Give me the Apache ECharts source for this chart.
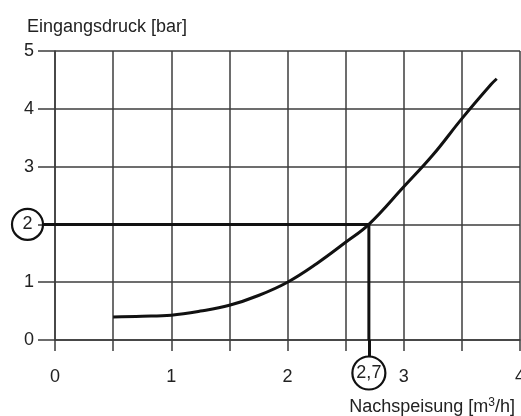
<!DOCTYPE html>
<html>
<head>
<meta charset="utf-8">
<script src="https://cdn.jsdelivr.net/npm/echarts@6/dist/echarts.min.js"></script>
<style>
html,body{margin:0;padding:0;background:#fff;}
#c{width:521px;height:416px;}
</style>
</head>
<body>
<div id="c"></div>
<script>
// Data
const flowX = [0.5, 0.75, 1.0, 1.25, 1.5, 1.75, 2.0, 2.25, 2.5, 2.7, 3.0, 3.25, 3.5, 3.75, 3.8];
const pressureY = [0.40, 0.41, 0.43, 0.50, 0.60, 0.77, 1.0, 1.32, 1.69, 2.0, 2.65, 3.2, 3.83, 4.42, 4.52];
const xTicks = [0, 1, 2, 3, 4];
const yTicks = [0, 1, 2, 3, 4, 5];
const markFlow = 2.7;
const markFlowLabel = '2,7';
const markPressure = 2;
const yAxisName = 'Eingangsdruck [bar]';
const xAxisNameMain = 'Nachspeisung [m';
const xAxisNameSup = '3';
const xAxisNameEnd = '/h]';

const FONT = '"Liberation Sans", Arial, sans-serif';
const GRID = '#3c3c3c';
const INK = '#111';
const TXT = '#222';

const chart = echarts.init(document.getElementById('c'), null, {renderer: 'canvas'});
const curve = flowX.map((x, i) => [x, pressureY[i]]);

chart.setOption({
  animation: false,
  backgroundColor: '#fff',
  textStyle: {fontFamily: FONT},
  title: [
    {text: yAxisName, left: 22, top: 13,
     textStyle: {fontFamily: FONT, fontSize: 18, fontWeight: 'normal', color: TXT}},
    {text: '{a|' + xAxisNameMain + '}{s|' + xAxisNameSup + '}{a|' + xAxisNameEnd + '}',
     right: 1, top: 392,
     textStyle: {fontFamily: FONT, fontSize: 18, fontWeight: 'normal', color: TXT,
       rich: {
         a: {fontFamily: FONT, fontSize: 18, color: TXT, lineHeight: 20},
         s: {fontFamily: FONT, fontSize: 12, color: TXT, lineHeight: 12, verticalAlign: 'top'}
       }}}
  ],
  grid: {left: 55, right: 1, top: 51, bottom: 76, containLabel: false, outerBoundsMode: 'none'},
  xAxis: [
    {type: 'value', min: 0, max: 4, interval: 0.5,
     axisLine: {show: true, lineStyle: {color: GRID, width: 1.5}},
     axisTick: {show: true, length: 11, lineStyle: {color: GRID, width: 1.5}},
     splitLine: {show: true, lineStyle: {color: GRID, width: 1.5}},
     axisLabel: {margin: 28, fontFamily: FONT, fontSize: 18, color: TXT, hideOverlap: false,
       formatter: v => xTicks.indexOf(v) >= 0 ? String(v) : ''}},
    {type: 'value', min: 0, max: 4, position: 'bottom',
     axisLine: {show: false},
     splitLine: {show: false},
     axisTick: {show: true, customValues: [markFlow], length: 16.5, lineStyle: {color: INK, width: 3}},
     axisLabel: {show: true, customValues: [markFlow], margin: 16.5, fontFamily: FONT, fontSize: 18, color: TXT,
       formatter: () => '{c|' + markFlowLabel + '}',
       rich: {c: {fontFamily: FONT, fontSize: 18, color: TXT, width: 33, height: 33, lineHeight: 33,
         align: 'center', borderColor: INK, borderWidth: 2.2, borderRadius: 18}}}}
  ],
  yAxis: [
    {type: 'value', min: 0, max: 5, interval: 1,
     axisLine: {show: true, lineStyle: {color: GRID, width: 1.5}},
     axisTick: {show: true, length: 17, lineStyle: {color: GRID, width: 1.5}},
     splitLine: {show: true, lineStyle: {color: GRID, width: 1.5}},
     axisLabel: {margin: 12, fontFamily: FONT, fontSize: 18, color: TXT,
       formatter: v => v === markPressure ? '{c|' + v + '}' : '{n|' + v + '}',
       rich: {
         n: {fontFamily: FONT, fontSize: 18, color: TXT, padding: [0, 9, 0, 0]},
         c: {fontFamily: FONT, fontSize: 18, color: TXT, width: 31, height: 31, lineHeight: 31,
           align: 'center', borderColor: INK, borderWidth: 2.2, borderRadius: 17}
       }}},
    {type: 'value', min: 0, max: 5, position: 'left',
     axisLine: {show: false},
     splitLine: {show: false},
     axisLabel: {show: false},
     axisTick: {show: true, customValues: [markPressure], length: 12, lineStyle: {color: INK, width: 3}}}
  ],
  series: [
    {type: 'line', xAxisIndex: 0, yAxisIndex: 0, data: curve, smooth: 0.4, symbol: 'none',
     lineStyle: {color: INK, width: 3}},
    {type: 'line', xAxisIndex: 0, yAxisIndex: 0,
     data: [[0, markPressure], [markFlow, markPressure], [markFlow, 0]],
     symbol: 'none', lineStyle: {color: INK, width: 3}}
  ]
});
</script>
</body>
</html>
